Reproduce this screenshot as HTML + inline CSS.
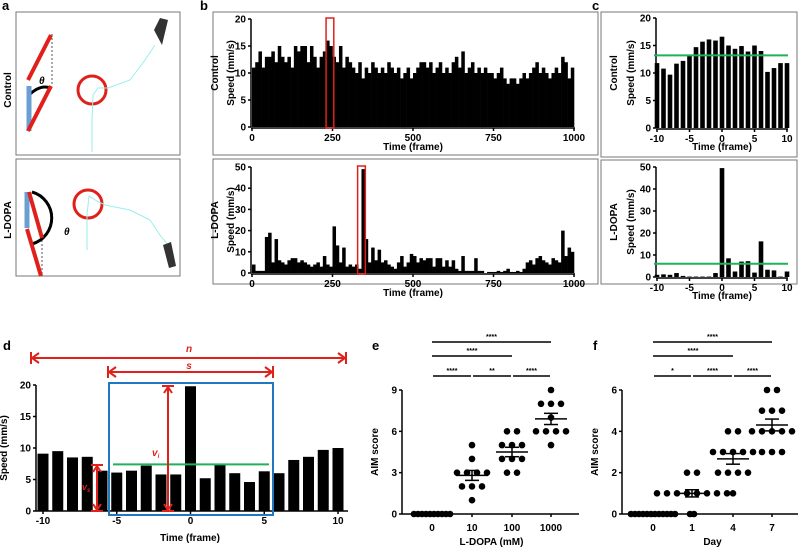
<!DOCTYPE html>
<html><head><meta charset="utf-8"><style>
body{margin:0;background:#fff}
svg{display:block;font-family:"Liberation Sans",Arial,sans-serif;font-weight:bold}
</style></head><body>
<svg id="fig" width="798" height="550" viewBox="0 0 798 550" xmlns="http://www.w3.org/2000/svg">
<g id="pa">
<text x="2" y="10" font-size="13">a</text>
<rect x="16" y="12" width="164" height="143" fill="none" stroke="#777"/>
<rect x="16" y="159" width="164" height="117" fill="none" stroke="#777"/>
<text transform="translate(11,90) rotate(-90)" font-size="10" text-anchor="middle">Control</text>
<text transform="translate(11,220) rotate(-90)" font-size="10" text-anchor="middle">L-DOPA</text>
<line x1="52" y1="34" x2="52" y2="84" stroke="#555" stroke-dasharray="2,2"/>
<path d="M28,96 Q40,84 50,88" fill="none" stroke="#000" stroke-width="3"/>
<line x1="29" y1="131" x2="29" y2="86" stroke="#6a9fd4" stroke-width="5"/>
<line x1="28" y1="131" x2="51" y2="86" stroke="#e0201b" stroke-width="4"/>
<line x1="28" y1="80" x2="51" y2="35" stroke="#e0201b" stroke-width="4"/>
<text x="39" y="84" font-size="10" font-style="italic">θ</text>
<circle cx="92" cy="90" r="14" fill="none" stroke="#e0201b" stroke-width="3"/>
<path d="M92,152 L92,120 93,95 98,88 108,88 130,80 145,60 155,45" fill="none" stroke="#9ee" stroke-width="1"/>
<path d="M154,30 L160,18 168,20 162,45 Z" fill="#333"/>
<line x1="42" y1="240" x2="42" y2="275" stroke="#555" stroke-dasharray="2,2"/>
<path d="M32,192 A27,27 0 0 1 32,244" fill="none" stroke="#000" stroke-width="3"/>
<line x1="27" y1="228" x2="27" y2="192" stroke="#6a9fd4" stroke-width="5"/>
<line x1="29" y1="192" x2="42" y2="238" stroke="#e0201b" stroke-width="4"/>
<line x1="27" y1="229" x2="41" y2="276" stroke="#e0201b" stroke-width="4"/>
<text x="64" y="235" font-size="10" font-style="italic">θ</text>
<circle cx="88" cy="204" r="14" fill="none" stroke="#e0201b" stroke-width="3"/>
<path d="M87,250 L87,215 89,196 95,200 105,205 130,210 150,220 160,235 168,245" fill="none" stroke="#9ee" stroke-width="1"/>
<path d="M163,245 L171,242 176,266 169,268 Z" fill="#333"/>
</g>
<rect x="213" y="12" width="385" height="143" fill="none" stroke="#777"/>
<rect x="213" y="159" width="385" height="125" fill="none" stroke="#777"/>
<rect x="601" y="12" width="196" height="145" fill="none" stroke="#777"/>
<rect x="601" y="160" width="196" height="124" fill="none" stroke="#777"/>
<text x="200" y="10" font-size="13">b</text>
<text x="592" y="10" font-size="13">c</text>
<text x="3" y="350" font-size="13">d</text>
<text x="372" y="350" font-size="13">e</text>
<text x="593" y="350" font-size="13">f</text>
<g id="charts"></g>
</svg>
<script>
// panel b data (10-frame bins)
const bCtrl=[11,12,14,11,13,13,14,12,15,13, 12,13,11,15,14,15,15,12,15,13, 11,13,14,16,15,13,12,15,11,13, 12,11,10,12,9,11,10,12,11,10, 11,10,12,11,10,11,9,10,11,9, 10,11,12,12,11,12,10,11,12,10, 11,10,12,13,11,14,10,11,12,10, 11,10,11,10,10,9,10,11,9,8, 9,9,8,9,10,9,10,11,12,10, 11,10,9,10,11,10,13,12,9,11];
const bDopa=[4,1,1,1,17,19,5,16,6,5, 4,6,7,7,5,6,5,4,3,4, 5,3,8,4,3,22,13,5,12,3, 4,3,4,2,49,16,5,12,6,11, 5,6,4,3,2,5,8,3,5,9, 8,5,7,6,7,7,3,7,7,3, 6,3,6,2,1,8,1,1,1,7, 1,1,0,0.5,0.5,0.5,1,0.5,1,2, 0.5,0.5,1,0.5,2,5,6,4,7,8, 6,5,4,7,6,5,20,8,12,10];
const bTicksX=[0,250,500,750,1000];
const bTicksCtrl=[0,5,10,15,20];
const bTicksDopa=[0,10,20,30,40,50];
// panel c
const cFrames=[-10,-9,-8,-7,-6,-5,-4,-3,-2,-1,0,1,2,3,4,5,6,7,8,9,10];
const cCtrl=[11.8,10.8,9.7,11.7,12.2,13.2,14.7,15.7,16.1,15.9,16.6,15,14.4,14.9,13.9,15,14,10.2,10.9,11.8,11.8];
const cDopa=[1,1.2,1,1.8,0.5,0.2,0.2,0.2,0.2,1.8,49.5,8.5,2.5,7,7.2,2,16.2,3.3,3,0.2,2.5];
const cMeanCtrl=13.2, cMeanDopa=6;
const cTicksX=[-10,-5,0,5,10];
// panel d
const dVals=[9.1,9.5,8.5,8.6,6.4,6.1,6.4,7.2,5.8,5.8,19.8,5.2,7.3,6,4.6,6.3,6,8.1,8.6,9.7,10];
const dMean=7.4;
const dTicksY=[0,5,10,15,20];
// panel e
const eCats=["0","10","100","1000"];
const eVals=[[0,0,0,0,0,0,0,0,0,0],[5,4,3,3,3,3,2,2,2,1],[6,6,5,5,5,4,4,4,3,3],[9,8,8,8,7,6,6,6,6,5]];
const eTicks=[0,3,6,9];
// panel f
const fCats=["0","1","4","7"];
const fVals=[[0,0,0,0,0,0,0,0,0,0,0,0],[2,2,1,1,1,1,1,1,1,1,0,0],[4,4,3,3,3,3,3,2,2,2,2,1],[6,6,5,5,5,4,4,4,4,4,3,3,3]];
const fTicks=[0,2,4,6];

const NS="http://www.w3.org/2000/svg";
const root=document.getElementById('charts');
function mk(tag,attrs,parent,txt){const e=document.createElementNS(NS,tag);for(const k in attrs)e.setAttribute(k,attrs[k]);if(txt!==undefined)e.textContent=txt;(parent||root).appendChild(e);return e;}
function lin(d0,d1,r0,r1){return v=>r0+(v-d0)*(r1-r0)/(d1-d0);}

function axesY(x,sy,ticks,fs){
  mk('line',{x1:x,y1:sy(ticks[0]),x2:x,y2:sy(ticks[ticks.length-1]),stroke:'#000','stroke-width':1.5});
  ticks.forEach(t=>{mk('line',{x1:x-3,y1:sy(t),x2:x,y2:sy(t),stroke:'#000','stroke-width':1.5});
    const l=mk('text',{x:x-5,y:sy(t)+3.5,'font-size':fs||10,'text-anchor':'end'},root,t);
    
    });
}
function axesX(y,sx,ticks,x0,x1,fs){
  mk('line',{x1:x0,y1:y,x2:x1,y2:y,stroke:'#000','stroke-width':1.5});
  ticks.forEach(t=>{mk('line',{x1:sx(t),y1:y,x2:sx(t),y2:y+3,stroke:'#000','stroke-width':1.5});
    const l=mk('text',{x:sx(t),y:y+13,'font-size':fs||10,'text-anchor':'middle'},root,t);
    
    });
}
function ytitle(x,y,txt,fs){const t=mk('text',{transform:`translate(${x},${y}) rotate(-90)`,'font-size':fs||10,'text-anchor':'middle'},root,txt);
  
  }
function xtitle(x,y,txt,fs){const t=mk('text',{x:x,y:y,'font-size':fs||10,'text-anchor':'middle'},root,txt);
  
  }

// panel b
function panelB(vals,y0,y1,maxV,ticks,boxX,boxFrame,label){
  const sx=lin(0,1000,252,574), sy=lin(0,maxV,y0,y1);
  vals.forEach((v,i)=>{const b=mk('rect',{x:sx(i*10),y:sy(v),width:sx(10)-sx(0)+0.3,height:y0-sy(v),fill:'#000'});
    
    });
  axesY(251,sy,ticks);axesX(y0+1,sx,bTicksX,251,575);
  mk('rect',{x:sx(boxFrame-12),y:y1-1,width:sx(24)-sx(0),height:y0-y1+2,fill:'none',stroke:'#e0201b','stroke-width':1.5});
  ytitle(234,(y0+y1)/2,'Speed (mm/s)');ytitle(218,(y0+y1)/2,label);
  xtitle(413,y0+23,'Time (frame)');
}
panelB(bCtrl,127,19,20,bTicksCtrl,0,242,'Control');
panelB(bDopa,273,167,50,bTicksDopa,0,340,'L-DOPA');

// panel c
function panelC(vals,mean,y0,y1,maxV,ticks,label){
  const sx=lin(-10,10,657,787), sy=lin(0,maxV,y0,y1);
  vals.forEach((v,i)=>{const b=mk('rect',{x:sx(cFrames[i])-2.3,y:sy(v),width:4.6,height:y0-sy(v),fill:'#000'});
    
    });
  axesY(656,sy,ticks);axesX(y0+1,sx,cTicksX,656,788);
  const g=mk('line',{x1:654,y1:sy(mean),x2:788,y2:sy(mean),stroke:'#1fb25a','stroke-width':2});
  
  
  ytitle(634,(y0+y1)/2,'Speed (mm/s)');ytitle(617,(y0+y1)/2,label);
  xtitle(722,y0+22,'Time (frame)');
}
panelC(cCtrl,cMeanCtrl,128,18,20,[0,5,10,15,20],'Control');
panelC(cDopa,cMeanDopa,277,167,50,[0,10,20,30,40,50],'L-DOPA');

// panel d
(function(){
  const sx=lin(-10,10,43,338), sy=lin(0,20,511,385);
  dVals.forEach((v,i)=>{const b=mk('rect',{x:sx(cFrames[i])-5.5,y:sy(v),width:11,height:511-sy(v),fill:'#000'});
    
    });
  axesY(36,sy,dTicksY);axesX(511,sx,cTicksX,36,348);
  ytitle(7,448,'Speed (mm/s)');xtitle(190,541,'Time (frame)');
  mk('rect',{x:109,y:383,width:164,height:132,fill:'none',stroke:'#1f78c1','stroke-width':2});
  mk('line',{x1:113,y1:sy(dMean),x2:269,y2:sy(dMean),stroke:'#1fb25a','stroke-width':2});
  const R='#e0201b';
  function harrow(x0,x1,y){mk('line',{x1:x0,y1:y,x2:x1,y2:y,stroke:R,'stroke-width':2});
    mk('line',{x1:x0,y1:y-6,x2:x0,y2:y+6,stroke:R,'stroke-width':2});mk('line',{x1:x1,y1:y-6,x2:x1,y2:y+6,stroke:R,'stroke-width':2});
    mk('path',{d:`M${x0+8},${y-5} L${x0+1},${y} L${x0+8},${y+5} M${x1-8},${y-5} L${x1-1},${y} L${x1-8},${y+5}`,fill:'none',stroke:R,'stroke-width':2});}
  function varrow(x,y0,y1){mk('line',{x1:x,y1:y0,x2:x,y2:y1,stroke:R,'stroke-width':2});
    mk('line',{x1:x-6,y1:y0,x2:x+6,y2:y0,stroke:R,'stroke-width':2});mk('line',{x1:x-6,y1:y1,x2:x+6,y2:y1,stroke:R,'stroke-width':2});
    mk('path',{d:`M${x-4},${y0+7} L${x},${y0+1} L${x+4},${y0+7} M${x-4},${y1-7} L${x},${y1-1} L${x+4},${y1-7}`,fill:'none',stroke:R,'stroke-width':2});}
  harrow(31,346,358);harrow(108,273,372);
  mk('text',{x:189,y:352,'font-size':10,'font-style':'italic',fill:R,'text-anchor':'middle'},root,'n');
  mk('text',{x:189,y:369,'font-size':10,'font-style':'italic',fill:R,'text-anchor':'middle'},root,'s');
  varrow(168,386,511);varrow(97,465,511);
  const t1=mk('text',{x:152,y:456,'font-size':10,'font-style':'italic',fill:R},root,'v');
  mk('tspan',{'font-size':6,dy:2},t1,'i');
  const t2=mk('text',{x:82,y:490,'font-size':9,'font-style':'italic',fill:R},root,'v');
  mk('tspan',{'font-size':6,dy:2},t2,'s');
})();

// dot plots
function dotPlot(cats,vals,ticks,maxV,xs,axisX,xTitle,pre,sigs){
  const sy=lin(0,maxV,514,390);
  axesY(axisX,sy,ticks);
  mk('line',{x1:axisX,y1:514,x2:xs[3]+28,y2:514,stroke:'#000','stroke-width':1.5});
  cats.forEach((c,i)=>{mk('line',{x1:xs[i],y1:514,x2:xs[i],y2:517,stroke:'#000','stroke-width':1.5});
    const l=mk('text',{x:xs[i],y:531,'font-size':10,'text-anchor':'middle'},root,c);
    
    
    const counts={};
    vals[i].forEach(v=>{counts[v]=(counts[v]||0)+1;});
    const seen={};
    vals[i].forEach(v=>{const n=counts[v];const k=seen[v]=(seen[v]||0)+1;
      const off=(k-1-(n-1)/2)*(v===0?4:10);
      const d=mk('circle',{cx:xs[i]+off,cy:sy(v),r:3.3,fill:'#000'});
      
      });
    const m=vals[i].reduce((a,b)=>a+b,0)/vals[i].length;
    const sd=Math.sqrt(vals[i].reduce((a,b)=>a+(b-m)*(b-m),0)/(vals[i].length-1))/Math.sqrt(vals[i].length);
    mk('line',{x1:xs[i]-16,y1:sy(m),x2:xs[i]+16,y2:sy(m),stroke:'#000','stroke-width':1.5});
    mk('line',{x1:xs[i],y1:sy(m-sd),x2:xs[i],y2:sy(m+sd),stroke:'#000','stroke-width':1.5});
    mk('line',{x1:xs[i]-7,y1:sy(m-sd),x2:xs[i]+7,y2:sy(m-sd),stroke:'#000','stroke-width':1.5});
    mk('line',{x1:xs[i]-7,y1:sy(m+sd),x2:xs[i]+7,y2:sy(m+sd),stroke:'#000','stroke-width':1.5});
  });
  ytitle(axisX-24,452,'AIM score');xtitle((xs[0]+xs[3])/2,545,xTitle);
  sigs.forEach(s=>{mk('line',{x1:xs[s[0]]+(s[3]?1:0),y1:s[2],x2:xs[s[1]]-(s[3]?1:0),y2:s[2],stroke:'#000','stroke-width':1.5});
    mk('text',{x:(xs[s[0]]+xs[s[1]])/2,y:s[2]-3,'font-size':7,'text-anchor':'middle'},root,s[4]);});
}
dotPlot(eCats,eVals,eTicks,9,[432,472,512,551],402,'L-DOPA (mM)','e',
  [[0,3,342,0,'****'],[0,2,356,0,'****'],[0,1,376,1,'****'],[1,2,376,1,'**'],[2,3,376,1,'****']]);
dotPlot(fCats,fVals,fTicks,6,[653,692,733,772],622,'Day','f',
  [[0,3,342,0,'****'],[0,2,356,0,'****'],[0,1,376,1,'*'],[1,2,376,1,'****'],[2,3,376,1,'****']]);
</script>
</body></html>
